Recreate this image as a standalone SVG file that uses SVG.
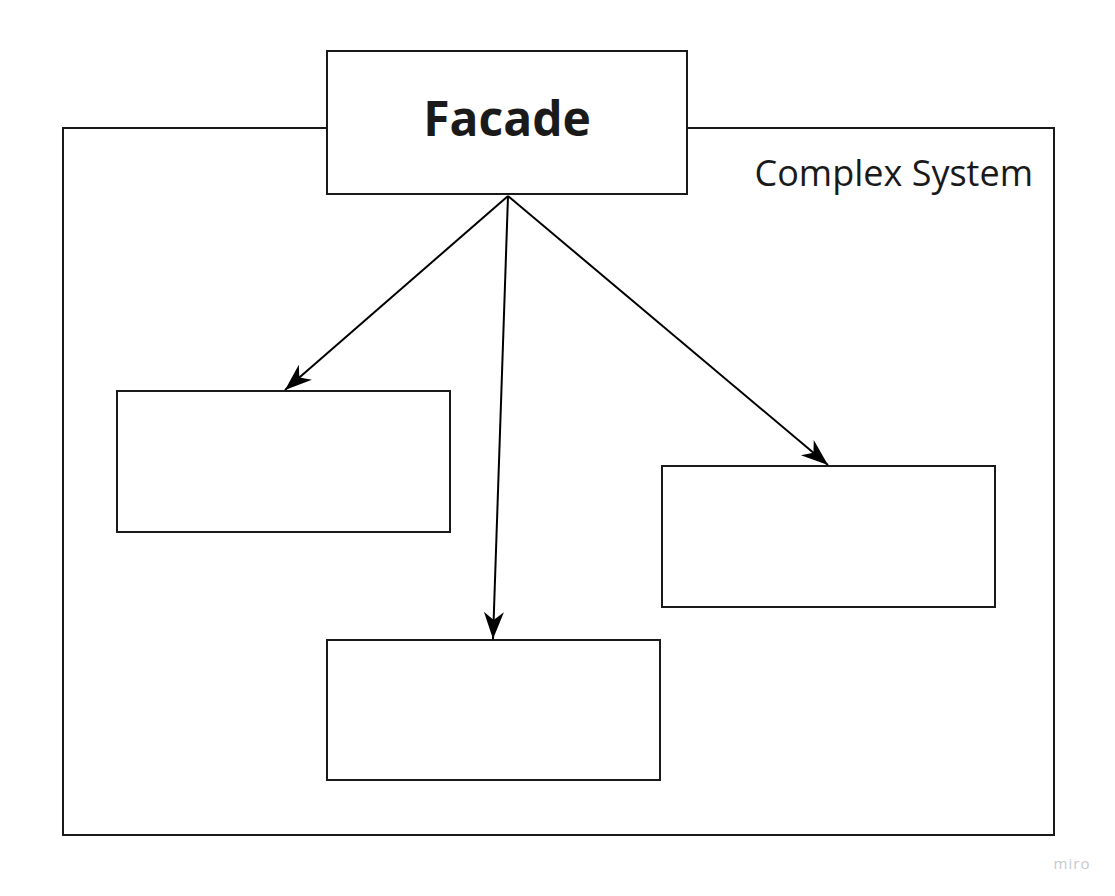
<svg xmlns="http://www.w3.org/2000/svg" width="1115" height="896" viewBox="0 0 1115 896">
<style>
.box{fill:#ffffff;stroke:#1a1a1a;stroke-width:2}
.conn{stroke:#000000;stroke-width:2;fill:none}
</style>
<defs>
<marker id="arr" markerUnits="userSpaceOnUse" markerWidth="32" markerHeight="26" viewBox="-28 -13 30 26" refX="0" refY="0" orient="auto">
<path d="M0,0 L-27,-10 L-19,0 L-27,10 Z" fill="#000000"/>
</marker>
</defs>
<rect width="1115" height="896" fill="#ffffff"/>
<g id="complex-system">
<rect class="box" x="63" y="128" width="991" height="707"/>
<text x="1033" y="186" text-anchor="end" font-family="'Open Sans', sans-serif" font-size="36" fill="#1a1a1a">Complex System</text>
</g>
<g id="facade">
<rect class="box" x="327" y="51" width="360" height="143"/>
<text x="507" y="136" text-anchor="middle" font-family="'Open Sans', sans-serif" font-weight="bold" font-size="48" fill="#1a1a1a">Facade</text>
</g>
<g id="subsystem-left">
<rect class="box" x="117" y="391" width="333" height="141"/>
</g>
<g id="subsystem-right">
<rect class="box" x="662" y="466" width="333" height="141"/>
</g>
<g id="subsystem-bottom">
<rect class="box" x="327" y="640" width="333" height="140"/>
</g>
<g id="connectors">
<line class="conn" x1="508" y1="196" x2="285" y2="390" marker-end="url(#arr)"/>
<line class="conn" x1="508" y1="196" x2="493" y2="639" marker-end="url(#arr)"/>
<line class="conn" x1="508" y1="196" x2="828" y2="465" marker-end="url(#arr)"/>
</g>
<text x="1072" y="869" text-anchor="middle" font-family="'Open Sans', sans-serif" font-size="15" fill="#c8c8d0" letter-spacing="1">miro</text>
</svg>
